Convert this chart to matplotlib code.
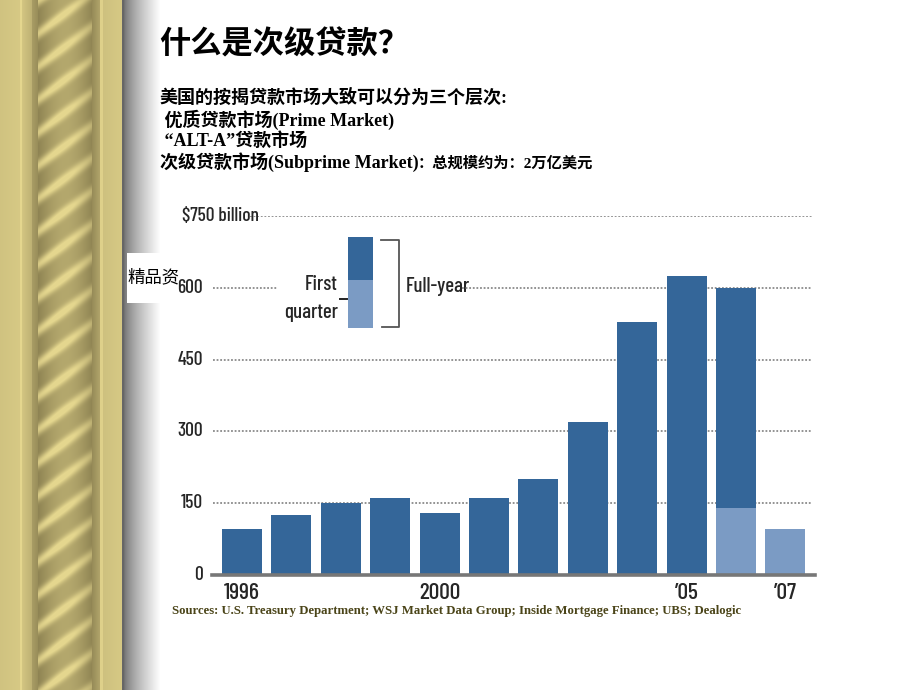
import numpy as np
import matplotlib
matplotlib.use("Agg")
import matplotlib.pyplot as plt
from matplotlib.patches import Rectangle

# ---------------- data ----------------
years = [1996, 1997, 1998, 1999, 2000, 2001, 2002, 2003, 2004, 2005, 2006, 2007]
full_year = [96, 125, 150, 161, 129, 161, 200, 319, 528, 624, 600, None]
first_quarter = [None, None, None, None, None, None, None, None, None, None, 140, 96]
year_labels = {1996: "1996", 2000: "2000", 2005: "\u201905", 2007: "\u201907"}
y_ticks = [0, 150, 300, 450, 600, 750]
y_tick_labels = ["0", "150", "300", "450", "600", "$750 billion"]

title = "什么是次级贷款？"
lines = ["美国的按揭贷款市场大致可以分为三个层次:",
         " 优质贷款市场(Prime Market)",
         " \u201cALT-A\u201d贷款市场",
         "次级贷款市场(Subprime Market)"]
line4_tail = "：总规模约为：2万亿美元"
sources = "Sources: U.S. Treasury Department; WSJ Market Data Group; Inside Mortgage Finance; UBS; Dealogic"

DARK = "#346699"
LIGHT = "#7b9bc4"
NARROW = ["Barlow Condensed", "DejaVu Sans"]
MIX = ["Liberation Serif", "Noto Sans CJK SC"]
CJK = ["Noto Sans CJK SC", "DejaVu Sans"]
TXT = "#262626"
NW = "medium"

W, H = 920, 690
fig = plt.figure(figsize=(W / 100, H / 100), dpi=100)
fig.patch.set_facecolor("white")

# ---------------- decorative left border ----------------
bw = 160
xs = np.arange(bw)[None, :].astype(float)
ys = np.arange(H)[:, None].astype(float)
dark = np.array([118, 108, 66]) / 255.0
gold = np.array([228, 214, 142]) / 255.0
img = np.ones((H, bw, 3))
prof = np.zeros(bw)
for x in range(bw):
    if x < 20:
        v = 0.82 + 0.06 * (x / 20)
    elif x < 22:
        v = 1.0
    elif x < 32:
        v = 0.84 - 0.2 * (x - 22) / 10
    elif x < 38:
        v = 0.45 - 0.15 * (x - 32) / 6
    elif x < 92:
        v = 0.0
    elif x < 100:
        v = 0.3 + 0.25 * (x - 92) / 8
    elif x < 103:
        v = 0.95
    elif x < 122:
        v = 0.8 + 0.08 * (x - 103) / 19
    else:
        v = 0.0
    prof[x] = v
base = np.repeat(prof[None, :], H, axis=0)
for c in range(3):
    img[:, :, c] = dark[c] + (gold[c] - dark[c]) * base
# rope
t = (xs - 38) / 54.0
phase = (ys + 0.75 * (xs - 38)) / 33.0
stripe = 0.5 + 0.5 * np.cos(2 * np.pi * phase)
stripe = stripe ** 3
cyl = 0.3 + 0.45 * np.sin(np.pi * np.clip(t, 0, 1))
rv = np.clip(cyl * 0.75 + stripe * (0.4 + 0.25 * (1 - t)), 0, 1)
rmask = np.repeat((xs >= 38) & (xs < 92), H, axis=0)
for c in range(3):
    ch = dark[c] + (gold[c] - dark[c]) * rv
    img[:, :, c] = np.where(rmask, ch, img[:, :, c])
# shadow
sx = np.arange(bw)
sh = np.clip((sx - 124) / 36.0, 0, 1)
g = 0.45 + 0.55 * sh ** 0.75
smask = sx >= 124
for c in range(3):
    img[:, smask, c] = np.repeat(g[smask][None, :], H, axis=0)
img[:, 122:124, :] = 0.4

axd = fig.add_axes([0, 0, bw / W, 1])
axd.imshow(img, aspect="auto", extent=(0, bw, H, 0), interpolation="bilinear")
axd.axis("off")
axd.set_zorder(0)

# ---------------- overlay: texts & legend (below chart axes) ----------------
ov = fig.add_axes([0, 0, 1, 1])
ov.set_xlim(0, W)
ov.set_ylim(H, 0)
ov.axis("off")
ov.patch.set_alpha(0)
ov.set_zorder(1)

# ---------------- main chart ----------------
left_px, right_px, base_px, top_px = 212, 815, 575, 216
ax = fig.add_axes([left_px / W, (H - base_px) / H, (right_px - left_px) / W,
                   (base_px - top_px) / H])
ax.set_zorder(2)
ax.set_xlim(-0.607, 11.6)
ax.set_ylim(0, 750)
ax.axis("off")
ax.patch.set_alpha(0)

def fx(px):
    return (px - left_px) / (right_px - left_px)

grid_kw = dict(color="#8a8a8a", lw=1.3, ls=(0, (1, 1)), zorder=1)
for v in y_ticks[1:]:
    if v == 750:
        ax.axhline(v, xmin=fx(250), xmax=fx(812), **grid_kw)
    elif v == 600:
        ax.axhline(v, xmin=fx(213), xmax=fx(278), **grid_kw)
        ax.axhline(v, xmin=fx(462), xmax=fx(812), **grid_kw)
    else:
        ax.axhline(v, xmin=fx(213), xmax=fx(812), **grid_kw)

idx = np.arange(len(years))
fy = np.array([np.nan if v is None else v for v in full_year], dtype=float)
fq = np.array([np.nan if v is None else v for v in first_quarter], dtype=float)
ax.bar(idx, np.nan_to_num(fy), width=0.81, color=DARK, zorder=2)
ax.bar(idx, np.nan_to_num(fq), width=0.81, color=LIGHT, zorder=3)
ax.axhline(0, xmin=0, xmax=1, color="#777777", lw=2.6, zorder=4, clip_on=False)

ytr = ax.get_yaxis_transform()
for v, lab in zip(y_ticks, y_tick_labels):
    if v == 750:
        ax.text(fx(182), v, lab, transform=ytr, ha="left", va="center",
                family=NARROW, fontsize=14, fontweight=NW, color=TXT)
    else:
        ax.text(fx(203), v, lab, transform=ytr, ha="right", va="center",
                family=NARROW, fontsize=14, fontweight=NW, color=TXT)

xtr = ax.get_xaxis_transform()
for i, yr in enumerate(years):
    if yr in year_labels:
        ax.text(i, (base_px - 593) / (base_px - top_px), year_labels[yr],
                transform=xtr, ha="center", va="center", family=NARROW,
                fontsize=17, fontweight=NW, color=TXT)

# ---------------- header texts ----------------
ov.text(159, 44, title, family=CJK, fontsize=22.5, fontweight="bold",
        ha="left", va="center", color="black")
ys_lines = [98, 119.5, 141, 162.5]
for yv, s in zip(ys_lines, lines):
    ov.text(160, yv, s, family=MIX, fontsize=13, fontweight="bold",
            ha="left", va="center", color="black")
ov.text(418, 163, line4_tail, family=MIX, fontsize=11, fontweight="bold",
        ha="left", va="center", color="black")

ov.text(172, 611, sources, family=["Liberation Serif"], fontsize=9.2,
        fontweight="bold", ha="left", va="center", color="#4b4519")

# legend
ov.add_patch(Rectangle((348, 237), 25, 43, color=DARK, lw=0))
ov.add_patch(Rectangle((348, 280), 25, 48, color=LIGHT, lw=0))
ov.plot([381, 399, 399, 382], [240, 240, 327, 327], color="#555555", lw=1.3)
ov.plot([340, 347], [298.5, 298.5], color="#222222", lw=1.4)
ov.text(338, 285, "First", family=NARROW, fontsize=15, fontweight=NW,
        ha="right", va="center", color=TXT)
ov.text(338, 313, "quarter", family=NARROW, fontsize=15, fontweight=NW,
        ha="right", va="center", color=TXT)
ov.text(406, 286, "Full-year", family=NARROW, fontsize=15, fontweight=NW,
        ha="left", va="center", color=TXT)

# watermark box
ov.add_patch(Rectangle((127, 253), 53, 50, color="white", lw=0, zorder=0))
ov.text(153.5, 277, "精品资", family=CJK, fontsize=12.5, ha="center",
        va="center", color="black")

fig.savefig("out.png", dpi=100)
